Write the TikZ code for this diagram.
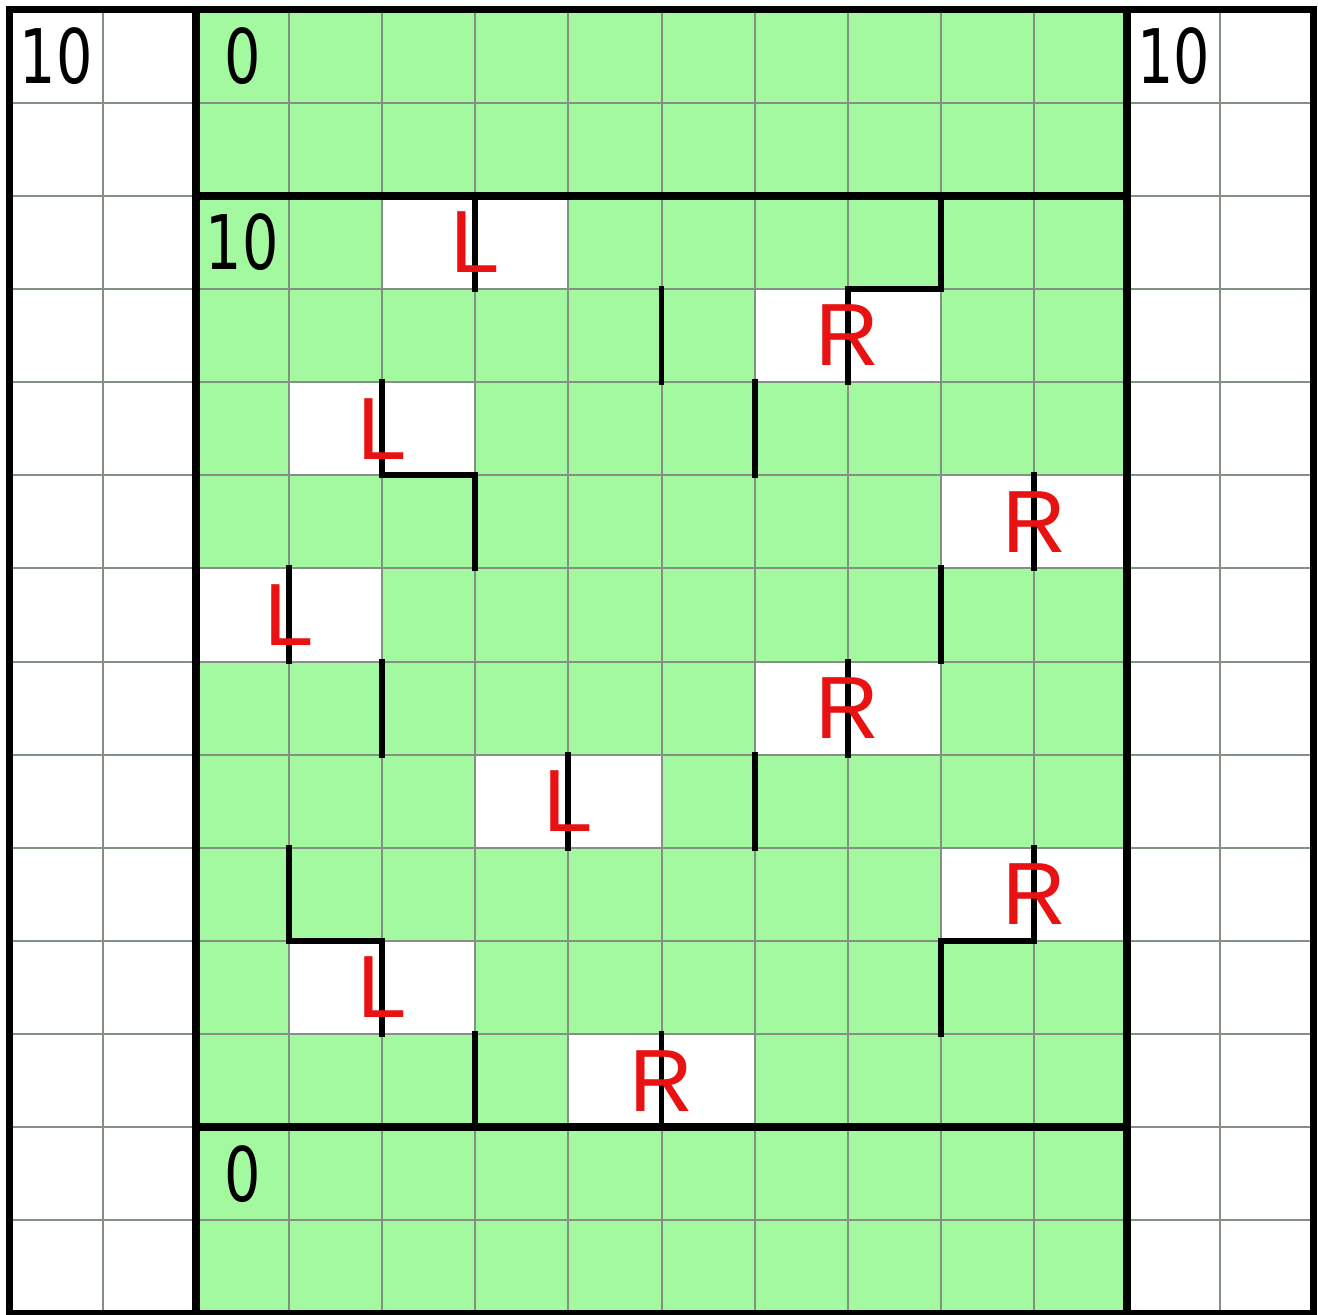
\documentclass[tikz,border=0pt]{standalone}
\usepackage{fontspec}
\newfontfamily\numfont{DejaVu Sans}
\newfontfamily\letfont{Liberation Sans}
\definecolor{cellgreen}{RGB}{162,249,160}
\definecolor{gridgray}{RGB}{130,145,130}
\definecolor{markred}{RGB}{232,18,18}
\tikzset{
  gridline/.style={draw=gridgray, line width=0.6pt},
  thickline/.style={draw=black, line width=2.4pt, line cap=rect, line join=miter},
  wallline/.style={draw=black, line width=1.8pt, line cap=rect, line join=miter},
  numlabel/.style={inner sep=0pt, font=\numfont\fontsize{23}{23}\selectfont, text=black},
  marklabel/.style={inner sep=0pt, font=\letfont\fontsize{27}{27}\selectfont, text=markred}
}
\begin{document}
\begin{tikzpicture}[x=1cm, y=-1cm]
\useasboundingbox (-0.102,-0.102) rectangle (14.048,14.006);
\fill[white] (-0.102,-0.102) rectangle (14.048,14.006);
% green area
\fill[cellgreen] (2,0) rectangle (12,14);
% white cells (pairs)
\foreach \c/\r in {4/2, 8/3, 3/4, 10/5, 2/6, 8/7, 5/8, 10/9, 3/10, 6/11}{
  \fill[white] (\c,\r) rectangle ({\c+2},{\r+1});
}
% grid
\draw[gridline] (0,0) grid (14,14);
% thick frame
\draw[thickline] (0,0) rectangle (14,14);
\draw[thickline] (2,0) -- (2,14);
\draw[thickline] (12,0) -- (12,14);
\draw[thickline] (2,2) -- (12,2);
\draw[thickline] (2,12) -- (12,12);
% walls
\draw[wallline] (5,2) -- (5,3);
\draw[wallline] (10,2) -- (10,3) -- (9,3) -- (9,4);
\draw[wallline] (7,3) -- (7,4);
\draw[wallline] (4,4) -- (4,5) -- (5,5) -- (5,6);
\draw[wallline] (8,4) -- (8,5);
\draw[wallline] (11,5) -- (11,6);
\draw[wallline] (3,6) -- (3,7);
\draw[wallline] (10,6) -- (10,7);
\draw[wallline] (9,7) -- (9,8);
\draw[wallline] (4,7) -- (4,8);
\draw[wallline] (6,8) -- (6,9);
\draw[wallline] (8,8) -- (8,9);
\draw[wallline] (11,9) -- (11,10) -- (10,10) -- (10,11);
\draw[wallline] (3,9) -- (3,10) -- (4,10) -- (4,11);
\draw[wallline] (7,11) -- (7,12);
\draw[wallline] (5,11) -- (5,12);
% numbers
\node[numlabel] (nTL) at (0.5,0.5) {\scalebox{0.76}[1]{10}};
\node[numlabel] (nTM) at (2.5,0.5) {\scalebox{0.76}[1]{0}};
\node[numlabel] (nTR) at (12.5,0.5) {\scalebox{0.76}[1]{10}};
\node[numlabel] (nMid) at (2.5,2.5) {\scalebox{0.76}[1]{10}};
\node[numlabel] (nBot) at (2.5,12.5) {\scalebox{0.76}[1]{0}};
% marks
\node[marklabel] (m1) at (5,2.5) {L};
\node[marklabel] (m2) at (9,3.5) {R};
\node[marklabel] (m3) at (4,4.5) {L};
\node[marklabel] (m4) at (11,5.5) {R};
\node[marklabel] (m5) at (3,6.5) {L};
\node[marklabel] (m6) at (9,7.5) {R};
\node[marklabel] (m7) at (6,8.5) {L};
\node[marklabel] (m8) at (11,9.5) {R};
\node[marklabel] (m9) at (4,10.5) {L};
\node[marklabel] (m10) at (7,11.5) {R};
\end{tikzpicture}
\end{document}
